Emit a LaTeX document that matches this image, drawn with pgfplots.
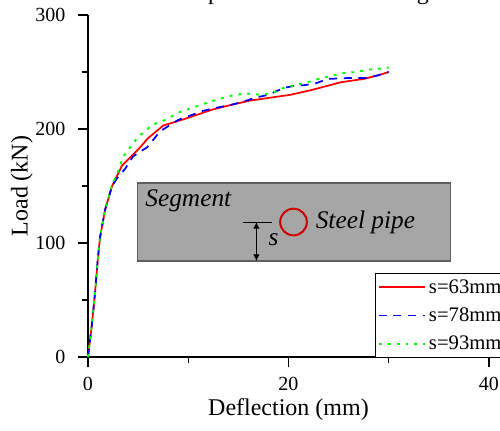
\documentclass[border=0pt]{standalone}
\usepackage{fontspec}
\setmainfont{Liberation Serif}
\usepackage{pgfplots}
\pgfplotsset{compat=1.18}
\usetikzlibrary{arrows.meta}
\definecolor{s63}{RGB}{255,0,0}
\definecolor{s78}{RGB}{0,0,255}
\definecolor{s93}{RGB}{0,255,0}
\definecolor{segfill}{RGB}{166,166,166}
\definecolor{segedge}{RGB}{95,95,95}
\definecolor{pipe}{RGB}{210,0,0}

\begin{document}
\begin{tikzpicture}
\begin{axis}[
    scale only axis, width=300.75pt, height=256.5pt,
    xmin=0, xmax=40, ymin=0, ymax=300,
    axis x line*=bottom, axis y line*=left,
    xtick={0,20,40}, minor xtick={10,30},
    ytick={0,100,200,300}, minor ytick={50,150,250},
    tick align=outside, major tick length=7.5pt, minor tick length=4.5pt,
    every tick/.style={black, line width=0.9pt},
    axis line style={line width=0.9pt},
    tick label style={font=\fontsize{15}{18}\selectfont},
    xticklabel style={yshift=-4pt},
    yticklabel style={xshift=-6pt},
    /pgf/number format/assume math mode=true,
    xlabel={Deflection (mm)}, ylabel={Load (kN)},
    label style={font=\fontsize{18}{22}\selectfont},
    xlabel style={at={(axis description cs:0.5,-0.155)}, anchor=center},
    ylabel style={at={(axis description cs:-0.165,0.5)}, anchor=center},
    legend style={at={(0.715,0.2457)}, anchor=north west, draw=black,
        line width=0.6pt, fill=white, font=\fontsize{15.5}{18}\selectfont,
        inner xsep=2pt, inner ysep=2.5pt, row sep=5.5pt},
    legend cell align=left,
    legend image code/.code={\draw[#1] (0pt,0pt) -- (35pt,0pt);},
    clip=false,
]
\coordinate (O) at (axis cs:0,0);

% inset sketch of the segment
\draw[segedge, fill=segfill, line width=0.8pt] (axis cs:4.9,84.2) rectangle (axis cs:36.2,152.6);
\node[anchor=west, inner sep=0pt, font=\itshape\fontsize{19}{22}\selectfont] at (axis cs:5.7,137) {Segment};
\draw[pipe, line width=1.5pt] (axis cs:20.5,118.4) circle[radius=10pt];
\node[anchor=west, inner sep=0pt, font=\itshape\fontsize{19}{22}\selectfont] at (axis cs:22.7,118.4) {Steel pipe};
\draw[line width=0.7pt] (axis cs:15.5,118.4) -- (axis cs:18.4,118.4);
\draw[{Latex[length=5pt,width=5pt]}-{Latex[length=5pt,width=5pt]}, line width=0.8pt]
    (axis cs:16.8,118.4) -- (axis cs:16.8,84.2);
\node[inner sep=0pt, font=\itshape\fontsize{19}{22}\selectfont] at (axis cs:18.5,102.5) {s};

\addplot[s63, line width=1.3pt] coordinates {
(0,0) (0.37,27) (0.7,56) (0.97,85) (1.2,105) (1.7,129) (2.4,150) (3.4,168)
(4.2,175) (5,182) (6.0,192) (7.5,203) (9.7,209) (12.4,217) (14.2,221)
(16.2,225) (18.2,227.5) (20.2,230) (22.2,234) (24.2,238.6) (25.2,241)
(27.5,243.9) (28.9,247) (30,250)};
\addlegendentry{s=63mm}

\addplot[s78, line width=1.3pt, dash pattern=on 6pt off 5pt] coordinates {
(0,0) (0.37,27) (0.7,56) (0.97,85) (1.2,105) (1.7,129) (2.4,150) (3.0,158)
(3.7,165) (4.5,176) (5.9,184) (7.2,198) (9.0,208) (11.5,216) (13,219)
(14.2,221) (15.5,224) (16.7,227.5) (18,230) (19.5,236) (20.5,237.7)
(21.7,238.6) (22.7,240) (23.9,243.9) (25.9,244.7) (27.7,244.7) (28.9,247) (30,250)};
\addlegendentry{s=78mm}

\addplot[s93, line width=1.4pt, dash pattern=on 2.2pt off 4.5pt] coordinates {
(0,0) (0.37,27) (0.7,56) (0.97,85) (1.2,105) (1.7,129) (2.4,151) (3.0,163)
(3.5,175.7) (4.2,184) (5,193) (6.4,203.5) (7.7,208) (9.2,215) (10.7,219.5)
(12.2,224) (13.7,228) (14.7,230) (15.9,231) (17.2,230) (18.4,231.6) (19.5,236)
(20.7,238.6) (21.9,241) (23,244) (24.2,246.5) (25.5,249) (26.7,250)
(27.9,252) (29.2,253) (30,254)};
\addlegendentry{s=93mm}
\end{axis}

\node[anchor=base east, inner sep=0pt, font=\fontsize{18}{22}\selectfont]
    at ([xshift=296.25pt, yshift=268.25pt]O) {to enhance the mechanical performance of the segment.};

\pgfresetboundingbox
\path[use as bounding box] ([xshift=-66pt, yshift=-55.5pt]O) rectangle ([xshift=309pt, yshift=267.75pt]O);
\end{tikzpicture}
\end{document}
